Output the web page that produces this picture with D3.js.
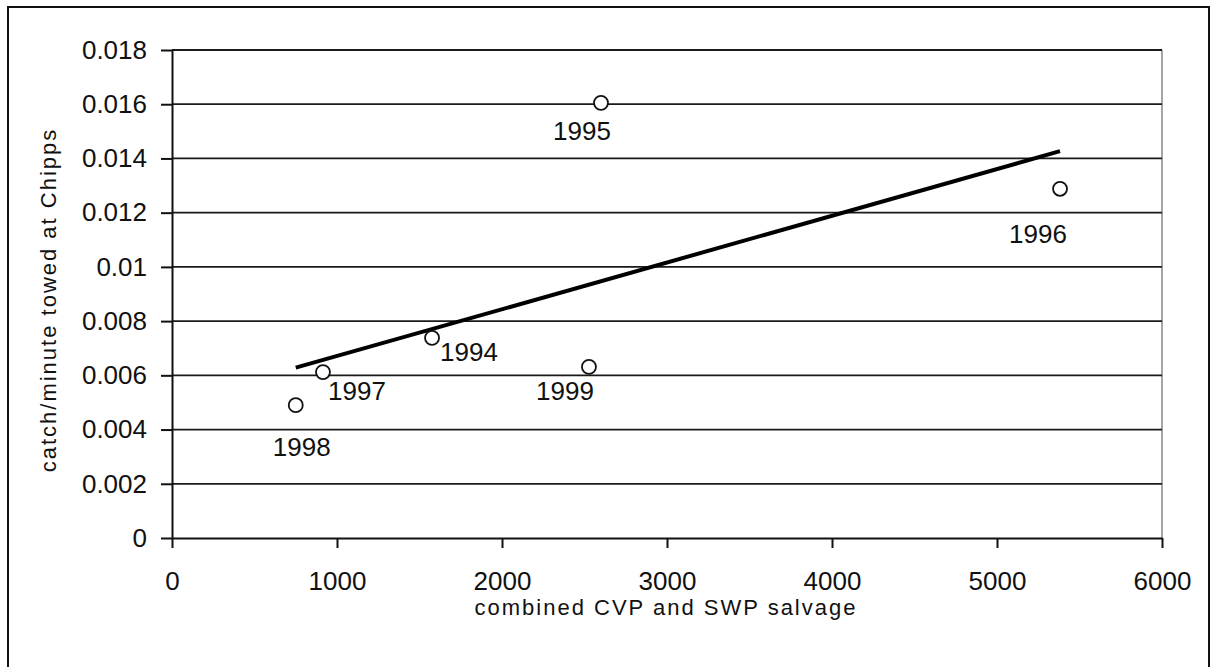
<!DOCTYPE html>
<html>
<head>
<meta charset="utf-8">
<script src="https://d3js.org/d3.v7.min.js"></script>
<style>
  body { margin: 0; background: #fff; }
  svg text { font-family: "Liberation Sans", Arial, sans-serif; fill: #111; }
</style>
</head>
<body>
<svg id="chart" width="1211" height="667"></svg>
<script>
// data
var years = ["1994", "1995", "1996", "1997", "1998", "1999"];
var salvage = [1576, 2600, 5382, 915, 750, 2527];
var catchPerMin = [0.00738, 0.01605, 0.01288, 0.00612, 0.0049, 0.00631];
var xTicks = [0, 1000, 2000, 3000, 4000, 5000, 6000];
var yTicks = [0, 0.002, 0.004, 0.006, 0.008, 0.01, 0.012, 0.014, 0.016, 0.018];

// where each year label sits relative to its point
var labelOffset = {
  "1994": [37, 14], "1995": [-19, 28], "1996": [-22, 45],
  "1997": [34, 19], "1998": [6, 42], "1999": [-24, 24]
};

var plotLeft = 172, plotRight = 1162, plotTop = 50, plotBottom = 538;

var svg = d3.select("#chart");

var points = years.map((y, i) => ({year: y, x: salvage[i], y: catchPerMin[i]}));

var xScale = d3.scaleLinear().domain([0, 6000]).range([plotLeft, plotRight]);
var yScale = d3.scaleLinear().domain([0, 0.018]).range([plotBottom, plotTop]);

// outer chart frame
svg.append("rect")
  .attr("x", 8).attr("y", 7)
  .attr("width", 1201).attr("height", 700)
  .attr("fill", "none")
  .attr("stroke", "#111")
  .attr("stroke-width", 2);

// plot area border (right side grey)
svg.append("line")
  .attr("x1", plotRight).attr("x2", plotRight)
  .attr("y1", plotTop).attr("y2", plotBottom)
  .attr("stroke", "#888").attr("stroke-width", 1.5);

// gridlines
svg.append("g")
  .selectAll("line")
  .data(yTicks.filter(d => d > 0))
  .enter()
  .append("line")
  .attr("x1", plotLeft).attr("x2", plotRight)
  .attr("y1", d => yScale(d)).attr("y2", d => yScale(d))
  .attr("stroke", "#1a1a1a")
  .attr("stroke-width", 1.8);

// axes
var xAxis = d3.axisBottom(xScale)
  .tickValues(xTicks)
  .tickSize(10)
  .tickSizeOuter(0)
  .tickPadding(24)
  .tickFormat(d3.format("d"));

var yAxis = d3.axisLeft(yScale)
  .tickValues(yTicks)
  .tickSize(11)
  .tickSizeOuter(0)
  .tickPadding(14)
  .tickFormat(d => d === 0 ? "0" : String(+d.toFixed(3)));

var gx = svg.append("g")
  .attr("transform", "translate(0," + plotBottom + ")")
  .call(xAxis);

var gy = svg.append("g")
  .attr("transform", "translate(" + plotLeft + ",0)")
  .call(yAxis);

[gx, gy].forEach(g => {
  g.select(".domain").attr("stroke", "#111").attr("stroke-width", 2);
  g.selectAll(".tick line").attr("stroke", "#111").attr("stroke-width", 2);
  g.selectAll(".tick text")
    .attr("font-size", "26px")
    .attr("font-family", "Liberation Sans, Arial, sans-serif")
    .attr("fill", "#111");
});

// axis titles
svg.append("text")
  .attr("x", 666)
  .attr("y", 615)
  .attr("text-anchor", "middle")
  .attr("font-size", "22px")
  .attr("letter-spacing", "2px")
  .text("combined CVP and SWP salvage");

svg.append("text")
  .attr("transform", "translate(56,300) rotate(-90)")
  .attr("text-anchor", "middle")
  .attr("font-size", "22px")
  .attr("letter-spacing", "2px")
  .text("catch/minute towed at Chipps");

// linear trendline from a least-squares fit
var mx = d3.mean(points, d => d.x), my = d3.mean(points, d => d.y);
var slope = d3.sum(points, d => (d.x - mx) * (d.y - my)) / d3.sum(points, d => (d.x - mx) * (d.x - mx));
var intercept = my - slope * mx;
var xr = d3.extent(points, d => d.x);

svg.append("line")
  .attr("x1", xScale(xr[0])).attr("y1", yScale(intercept + slope * xr[0]))
  .attr("x2", xScale(xr[1])).attr("y2", yScale(intercept + slope * xr[1]))
  .attr("stroke", "#000")
  .attr("stroke-width", 4);

// markers
svg.append("g")
  .selectAll("circle")
  .data(points)
  .enter()
  .append("circle")
  .attr("cx", d => xScale(d.x))
  .attr("cy", d => yScale(d.y))
  .attr("r", 7)
  .attr("fill", "#fff")
  .attr("stroke", "#111")
  .attr("stroke-width", 1.8);

// year labels
svg.append("g")
  .selectAll("text")
  .data(points)
  .enter()
  .append("text")
  .attr("x", d => xScale(d.x) + labelOffset[d.year][0])
  .attr("y", d => yScale(d.y) + labelOffset[d.year][1])
  .attr("text-anchor", "middle")
  .attr("dominant-baseline", "central")
  .attr("font-size", "26px")
  .text(d => d.year);
</script>
</body>
</html>
